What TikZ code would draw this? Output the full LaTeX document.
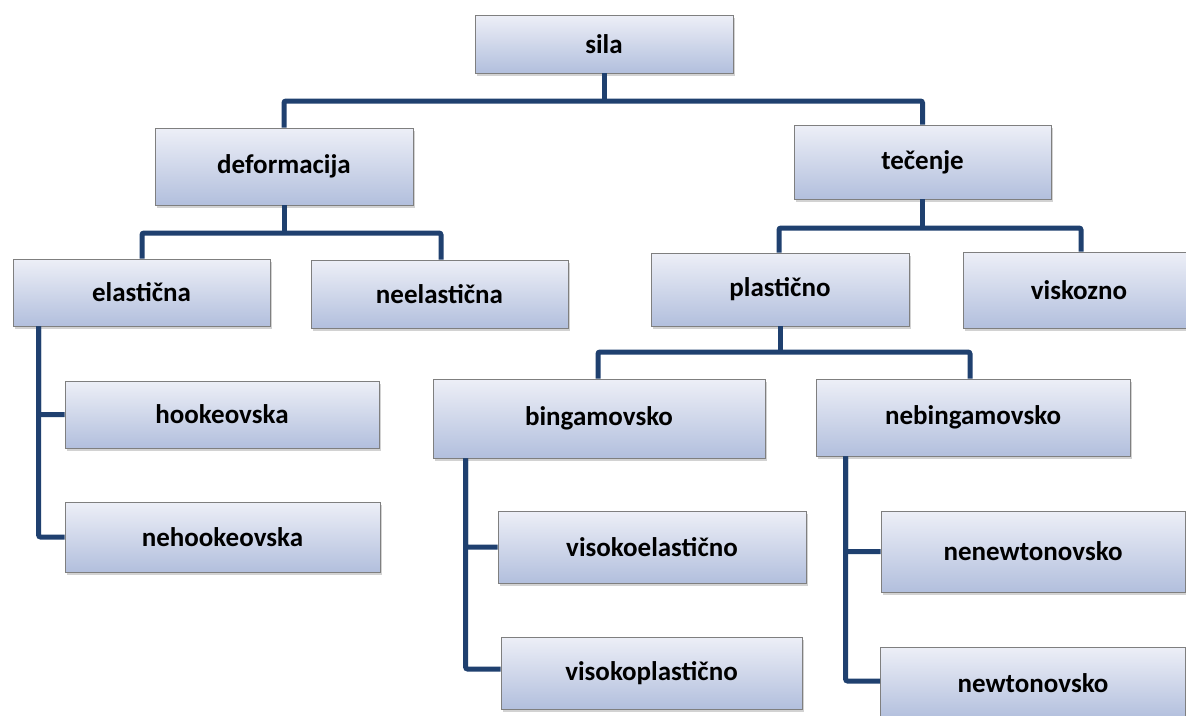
\documentclass[tikz,border=0pt]{standalone}
\usepackage{fontspec}
\setmainfont{Carlito}
\usetikzlibrary{shadows}
\definecolor{boxtop}{HTML}{EDEFF7}
\definecolor{boxbot}{HTML}{B2BFDD}
\definecolor{boxedge}{HTML}{7F7F7F}
\definecolor{linkcol}{HTML}{1F406F}
\tikzset{
  boxfont/.style={font=\fontsize{27}{32}\selectfont\bfseries, text=black},
  box/.style={rectangle, draw=boxedge, line width=0.8pt, top color=boxtop, bottom color=boxbot,
    drop shadow={opacity=0.35, shadow xshift=2pt, shadow yshift=-2.5pt},
    boxfont, inner sep=0pt},
  link/.style={draw=linkcol, line width=5pt, rounded corners=2pt}
}
\begin{document}
\begin{tikzpicture}[x=1pt,y=-1pt]
\useasboundingbox (0,0) rectangle (1186,715);
\clip (0,0) rectangle (1186,715);
\fill[white] (0,0) rectangle (1186,715);
\coordinate (j1) at (604,101);
\coordinate (j2) at (284,233);
\coordinate (j3) at (922.5,228);
\coordinate (j4) at (780,352);
% boxes
\node[box, minimum width=258, minimum height=58] (sila) at (604,44) {sila};
\node[box, minimum width=258, minimum height=77] (deformacija) at (284,166.5) {deformacija};
\node[box, minimum width=257, minimum height=74] (tecenje) at (922.5,162) {tečenje};
\node[box, minimum width=257, minimum height=67] (elasticna) at (141.5,292.5) {elastična};
\node[box, minimum width=257, minimum height=68] (neelasticna) at (439.5,294) {neelastična};
\node[box, minimum width=258, minimum height=73] (plasticno) at (780,289.5) {plastično};
\node[box, minimum width=258, minimum height=76] (viskozno) at (1092,290) {};
\node[boxfont] (viskoznotxt) at (1079,290) {viskozno};
\node[box, minimum width=314, minimum height=67] (hookeovska) at (222,414.5) {hookeovska};
\node[box, minimum width=315, minimum height=70] (nehookeovska) at (222.5,537) {nehookeovska};
\node[box, minimum width=332, minimum height=79] (bingamovsko) at (599,418.5) {bingamovsko};
\node[box, minimum width=314, minimum height=77] (nebingamovsko) at (973,417.5) {nebingamovsko};
\node[box, minimum width=308, minimum height=72] (visokoelasticno) at (652,547) {visokoelastično};
\node[box, minimum width=301, minimum height=72] (visokoplasticno) at (651.5,673) {visokoplastično};
\node[box, minimum width=304, minimum height=81] (nenewtonovsko) at (1033,551.5) {nenewtonovsko};
\node[box, minimum width=305, minimum height=72] (newtonovsko) at (1033,683) {newtonovsko};
% connectors
\draw[link] (sila.south) -- (j1);
\draw[link] (deformacija.north) |- (j1) -| (tecenje.north);
\draw[link] (deformacija.south) -- (j2);
\draw[link] ([xshift=0.5pt]elasticna.north) |- (j2) -| ([xshift=1.5pt]neelasticna.north);
\draw[link] (tecenje.south) -- (j3);
\draw[link] ([xshift=-1pt]plasticno.north) |- (j3) -| ([xshift=-11pt]viskozno.north);
\draw[link] (plasticno.south) -- (j4);
\draw[link] ([xshift=-1pt]bingamovsko.north) |- (j4) -| ([xshift=-3pt]nebingamovsko.north);
\draw[link] ([xshift=26pt]elasticna.south west) |- (hookeovska.west);
\draw[link] ([xshift=26pt]elasticna.south west) |- (nehookeovska.west);
\draw[link] ([xshift=33pt]bingamovsko.south west) |- (visokoelasticno.west);
\draw[link] ([xshift=33pt]bingamovsko.south west) |- ([yshift=4pt]visokoplasticno.west);
\draw[link] ([xshift=30pt]nebingamovsko.south west) |- (nenewtonovsko.west);
\draw[link] ([xshift=30pt]nebingamovsko.south west) |- ([yshift=2pt]newtonovsko.west);
\end{tikzpicture}
\end{document}
